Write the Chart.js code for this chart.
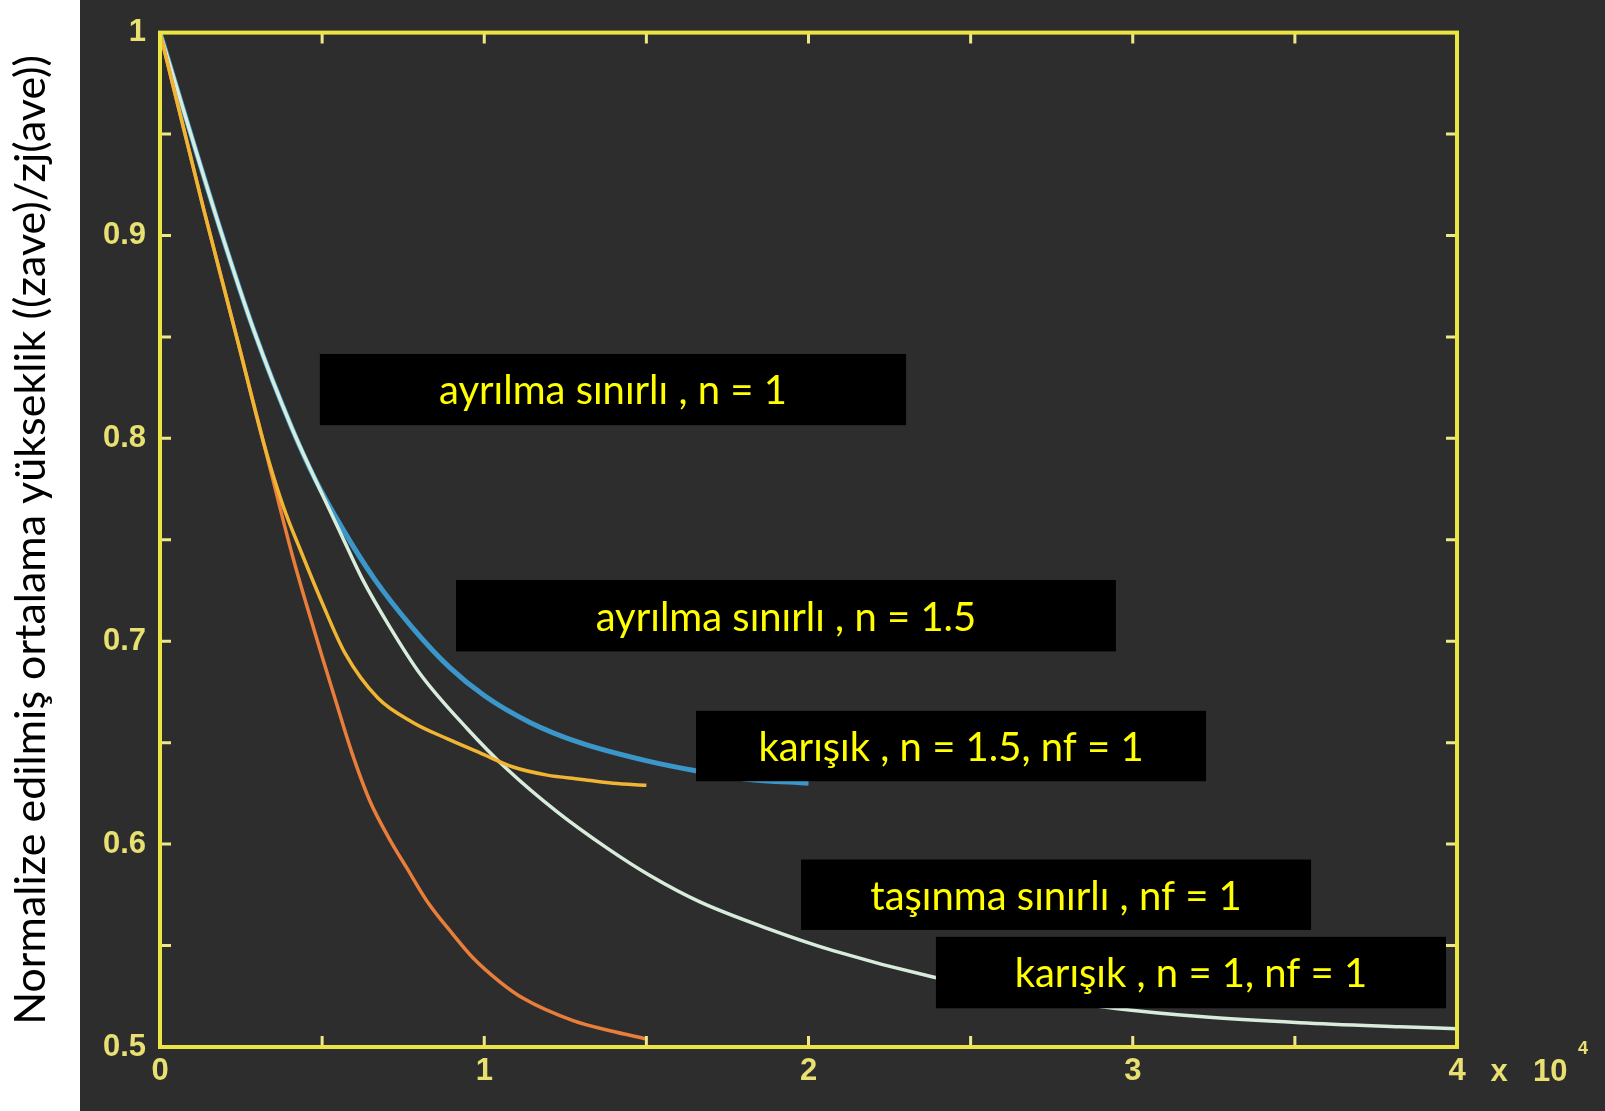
<!DOCTYPE html>
<html>
<head>
<meta charset="utf-8">
<script src="https://cdn.jsdelivr.net/npm/chart.js@4/dist/chart.umd.min.js"></script>
<style>
  html, body { margin: 0; padding: 0; background: #ffffff; }
  canvas { display: block; }
</style>
</head>
<body>
<canvas id="chart" width="1605" height="1111"></canvas>
<script>
// Normalized mean height vs. time, four model runs
const orangeX = [0, 1330, 2380, 3210, 4070, 4500, 4970, 5430, 5920, 6480, 7060, 7620, 8230, 9010, 9650, 10490, 11200, 12740, 13880, 15000];
const orangeY = [1.000, 0.914, 0.849, 0.797, 0.743, 0.719, 0.694, 0.670, 0.645, 0.621, 0.603, 0.588, 0.572, 0.556, 0.544, 0.532, 0.524, 0.513, 0.508, 0.504];

const goldX = [0, 1330, 2380, 3210, 3790, 4380, 5000, 5710, 6720, 7800, 8850, 9870, 10890, 11940, 12950, 13970, 15000];
const goldY = [1.000, 0.914, 0.849, 0.797, 0.767, 0.743, 0.719, 0.694, 0.672, 0.660, 0.652, 0.645, 0.638, 0.634, 0.632, 0.630, 0.629];

const blueX = [0, 1880, 2900, 4070, 4780, 5610, 6600, 7770, 8940, 10020, 11410, 12950, 15020, 16560, 18100, 20000];
const blueY = [1.000, 0.902, 0.853, 0.805, 0.780, 0.756, 0.731, 0.707, 0.687, 0.673, 0.660, 0.650, 0.641, 0.636, 0.632, 0.630];

const whiteX = [0, 1880, 2900, 4070, 4780, 5490, 6230, 7090, 8020, 9470, 10700, 12240, 13790, 15110, 16650, 18720, 20760, 23840, 27450, 29480, 32070, 35160, 38240, 40000];
const whiteY = [1.000, 0.902, 0.853, 0.805, 0.780, 0.756, 0.731, 0.707, 0.684, 0.657, 0.637, 0.616, 0.598, 0.5845, 0.5715, 0.5585, 0.5475, 0.5345, 0.5235, 0.519, 0.515, 0.512, 0.510, 0.509];

const xTickLabels = ['0', '1', '2', '3', '4'];
const yTickLabels = ['0.5', '0.6', '0.7', '0.8', '0.9', '1'];

const noteTexts = [
  'ayrılma sınırlı , n = 1',
  'ayrılma sınırlı , n = 1.5',
  'karışık , n = 1.5, nf = 1',
  'taşınma sınırlı , nf = 1',
  'karışık , n = 1, nf = 1'
];

const yTitle = 'Normalize edilmiş ortalama yükseklik ((zave)/zj(ave))';

function toPoints(xs, ys) {
  return xs.map((x, i) => ({ x: x, y: ys[i] }));
}

// Label boxes, given in axis units: [xFrom, xTo, yTop, yBottom]
const noteFrames = [
  [4930, 23010, 0.8416, 0.8065],
  [9130, 29480, 0.7302, 0.6950],
  [16530, 32260, 0.6657, 0.6310],
  [19770, 35500, 0.5924, 0.5577],
  [23930, 39660, 0.5543, 0.5191]
];

const AXIS_YELLOW = '#ece443';
const TICK_YELLOW = '#eee88a';
const LABEL_YELLOW = '#e9e072';
const TICK_FONT = '"Liberation Sans", Arial, sans-serif';

const framePlugin = {
  id: 'framePlugin',
  beforeDraw(chart) {
    const { ctx, width, height } = chart;
    ctx.save();
    ctx.fillStyle = '#ffffff';
    ctx.fillRect(0, 0, width, height);
    ctx.fillStyle = '#2d2d2d';
    ctx.fillRect(80, 0, width - 80, height);
    ctx.restore();
  },
  afterDatasetsDraw(chart) {
    const { ctx, chartArea: a, scales } = chart;
    const xs = scales.x, ys = scales.y;
    ctx.save();

    // inward tick marks on all four sides
    ctx.strokeStyle = TICK_YELLOW;
    ctx.lineWidth = 3;
    ctx.beginPath();
    xs.ticks.forEach(t => {
      const px = xs.getPixelForValue(t.value);
      ctx.moveTo(px, a.bottom); ctx.lineTo(px, a.bottom - 11);
      ctx.moveTo(px, a.top); ctx.lineTo(px, a.top + 11);
    });
    ys.ticks.forEach(t => {
      const py = ys.getPixelForValue(t.value);
      ctx.moveTo(a.left, py); ctx.lineTo(a.left + 11, py);
      ctx.moveTo(a.right, py); ctx.lineTo(a.right - 11, py);
    });
    ctx.stroke();

    // plot box
    ctx.strokeStyle = AXIS_YELLOW;
    ctx.lineWidth = 4;
    ctx.strokeRect(a.left, a.top, a.right - a.left, a.bottom - a.top);

    // exponent marker next to the last x label
    ctx.fillStyle = LABEL_YELLOW;
    ctx.font = 'bold 31px ' + TICK_FONT;
    ctx.textBaseline = 'middle';
    ctx.textAlign = 'center';
    const ly = a.bottom + 25;
    ctx.fillText('x', a.right + 42, ly);
    ctx.textAlign = 'left';
    ctx.fillText('10', a.right + 76, ly);
    ctx.font = 'bold 18px ' + TICK_FONT;
    ctx.fillText('4', a.right + 121, ly - 23);

    // labelled boxes
    noteFrames.forEach((f, i) => {
      const x0 = xs.getPixelForValue(f[0]);
      const x1 = xs.getPixelForValue(f[1]);
      const y0 = ys.getPixelForValue(f[2]);
      const y1 = ys.getPixelForValue(f[3]);
      ctx.fillStyle = '#000000';
      ctx.fillRect(x0, y0, x1 - x0, y1 - y0);
      ctx.fillStyle = '#ffff00';
      ctx.font = '40px Lato, "Open Sans", sans-serif';
      ctx.textAlign = 'center';
      ctx.textBaseline = 'middle';
      ctx.fillText(noteTexts[i], (x0 + x1) / 2, (y0 + y1) / 2 + 2);
    });
    ctx.restore();
  }
};

const lineStyle = (color, width) => ({
  borderColor: color,
  backgroundColor: color,
  borderWidth: width,
  pointRadius: 0,
  fill: false,
  showLine: true,
  cubicInterpolationMode: 'monotone'
});

new Chart(document.getElementById('chart'), {
  type: 'scatter',
  data: {
    datasets: [
      Object.assign({ label: noteTexts[1], data: toPoints(goldX, goldY) }, lineStyle('#f0b532', 3.5)),
      Object.assign({ label: noteTexts[0], data: toPoints(orangeX, orangeY) }, lineStyle('#e97d3a', 3.5)),
      Object.assign({ label: noteTexts[3], data: toPoints(whiteX, whiteY) }, lineStyle('#d8ecdc', 3.5)),
      Object.assign({ label: noteTexts[2], data: toPoints(blueX, blueY) }, lineStyle('#3b97c9', 5))
    ]
  },
  options: {
    responsive: false,
    animation: false,
    events: [],
    layout: { padding: { top: 24, right: 148, left: 0, bottom: 0 } },
    plugins: { legend: { display: false }, tooltip: { enabled: false } },
    scales: {
      x: {
        type: 'linear',
        min: 0, max: 40000,
        afterFit: s => { s.height = 64; },
        grid: { display: false, drawTicks: false },
        border: { display: false },
        ticks: {
          stepSize: 5000,
          autoSkip: false,
          maxRotation: 0,
          padding: 6,
          color: LABEL_YELLOW,
          font: { family: TICK_FONT, size: 31, weight: 'bold' },
          callback: v => (Math.round(v) % 10000 === 0 ? xTickLabels[Math.round(v / 10000)] : '')
        }
      },
      y: {
        type: 'linear',
        min: 0.5, max: 1,
        afterFit: s => { s.width = 160; },
        grid: { display: false, drawTicks: false },
        border: { display: false },
        ticks: {
          stepSize: 0.05,
          autoSkip: false,
          padding: 14,
          color: LABEL_YELLOW,
          font: { family: TICK_FONT, size: 31, weight: 'bold' },
          callback: v => {
            const k = Math.round((v - 0.5) * 20);
            return k % 2 === 0 ? yTickLabels[k / 2] : '';
          }
        },
        title: {
          display: true,
          text: yTitle,
          color: '#000000',
          font: { family: 'Lato, "Open Sans", sans-serif', size: 43 },
          padding: { top: 5, bottom: 0 }
        }
      }
    }
  },
  plugins: [framePlugin]
});
</script>
</body>
</html>
